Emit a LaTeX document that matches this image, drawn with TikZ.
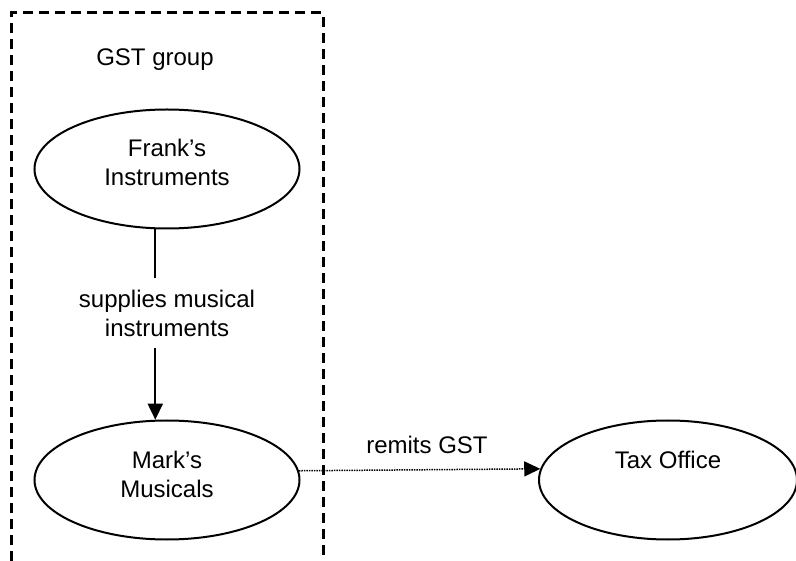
\documentclass[tikz,border=0pt]{standalone}
\usepackage{fontspec}
\setmainfont{Liberation Sans}
\usetikzlibrary{shapes.geometric,arrows.meta}
\begin{document}
\begin{tikzpicture}[x=1pt,y=-1pt,
    font=\fontsize{24}{29}\selectfont,
    bubble/.style={draw,line width=2pt,ellipse,inner sep=0pt,minimum width=265pt,minimum height=119pt},
    caption/.style={align=center,inner sep=0pt},
    groupline/.style={line width=3pt,dash pattern=on 10pt off 6pt},
    tip/.style={-{Triangle[length=16pt,width=15pt]}}]
    \useasboundingbox (0,0) rectangle (796,561);
    %group
    \draw[groupline] (11,561) -- (11,13) -- (323,13) -- (323,561);
    \node[caption] (gst) at (155,60) {GST group};
    %entities
    \node[bubble] (frank) at (167,169) {};
    \node[bubble] (mark) at (167,480) {};
    \node[bubble,minimum width=258pt] (tax) at (668,480) {};
    \node[caption] (franktext) at ([yshift=7pt]frank.center) {Frank's\\Instruments};
    \node[caption] (marktext) at ([yshift=6pt]mark.center) {Mark's\\Musicals};
    \node[caption] (taxtext) at ([yshift=20pt]tax.center) {Tax Office};
    %supply
    \node[caption,inner sep=11pt] (supplies) at (167,313) {supplies musical\\instruments};
    \draw[line width=1.8pt] (frank.-101.5) -- (frank.-101.5 |- supplies.north);
    \draw[line width=1.8pt,tip] (mark.101.5 |- supplies.south) -- (mark.101.5);
    %remittance
    \draw[line width=1.5pt,dash pattern=on 1.5pt off 1pt,tip] (mark.4.8) -- (tax.175.2);
    \node[caption] (remits) at (427,445) {remits GST};
\end{tikzpicture}
\end{document}
